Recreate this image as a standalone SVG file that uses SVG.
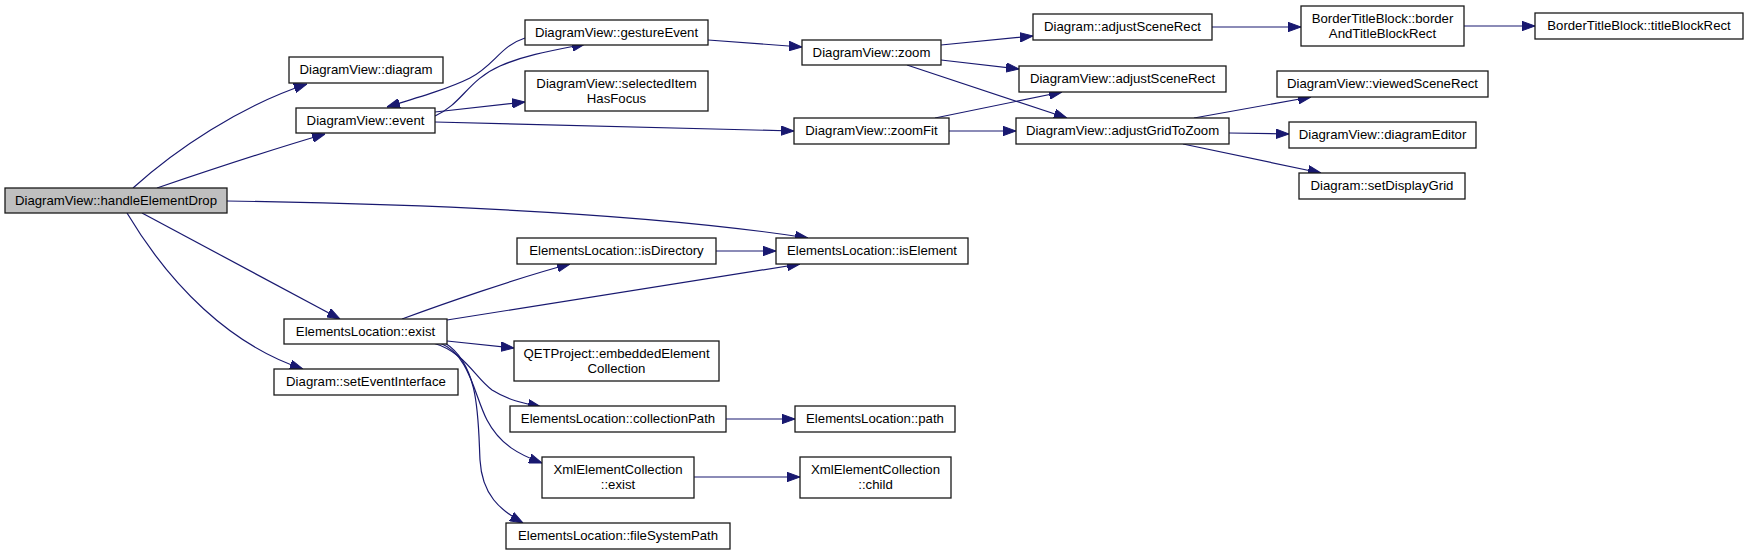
<svg xmlns="http://www.w3.org/2000/svg" width="1748" height="555" viewBox="0 0 1748 555">
<style>
.n rect{fill:#fff;stroke:#1a1a1a;stroke-width:1.3}
.n.root rect{fill:#bfbfbf}
.n text{font-family:"Liberation Sans",Arial,sans-serif;font-size:13.2px;fill:#000;text-anchor:middle}
.e path{fill:none;stroke:#191970;stroke-width:1.2;marker-end:url(#ah)}
</style>
<defs>
<marker id="ah" markerUnits="userSpaceOnUse" markerWidth="13" markerHeight="10" viewBox="0 0 13 10" refX="13" refY="5" orient="auto">
<path d="M0,0.3 L13,5 L0,9.7 z" fill="#191970" stroke="#191970" stroke-width="1"/>
</marker>
</defs>
<rect width="1748" height="555" fill="#fff"/>
<g id="edges" class="e">
<path d="M133,188 C175,150 240,106 307,84"/>
<path d="M157,188 C210,170 270,150 325,134"/>
<path d="M227,201 C420,204 640,212 808,238"/>
<path d="M142,213 L340,319"/>
<path d="M127,213 C170,285 230,345 303,369"/>
<path d="M435,116 C462,104 468,80 500,66 C525,55 555,50 585,44"/>
<path d="M525,38 C500,46 495,65 470,78 C450,88 420,97 387,107"/>
<path d="M435,112 L525,102"/>
<path d="M435,122 L794,131"/>
<path d="M708,40 L802,47"/>
<path d="M941,45 L1033,36"/>
<path d="M941,60 L1019,69"/>
<path d="M907,65 L1067,118"/>
<path d="M935,118 L1062,92"/>
<path d="M949,131 L1016,131"/>
<path d="M1212,27 L1301,27"/>
<path d="M1464,26 L1535,26"/>
<path d="M1194,118 L1311,97"/>
<path d="M1229,133 L1289,134"/>
<path d="M1183,144 L1321,173"/>
<path d="M716,251 L776,251"/>
<path d="M402,319 C440,305 520,277 570,264"/>
<path d="M447,320 L800,264"/>
<path d="M447,341 L514,348"/>
<path d="M433,343 C465,352 475,378 492,390 C508,400 522,403 541,407"/>
<path d="M440,343 C470,355 474,395 487,420 C500,445 520,455 542,463"/>
<path d="M445,343 C480,365 478,420 480,460 C482,495 500,510 523,523"/>
<path d="M726,419 L795,419"/>
<path d="M694,477 L800,477"/>
</g>
<g id="n_hed" class="n root"><rect x="5" y="188" width="222" height="25"/><text x="116" y="204.5">DiagramView::handleElementDrop</text></g>
<g id="n_diagram" class="n"><rect x="289" y="57" width="154" height="26"/><text x="366" y="74">DiagramView::diagram</text></g>
<g id="n_event" class="n"><rect x="296" y="108" width="139" height="25"/><text x="365.5" y="124.5">DiagramView::event</text></g>
<g id="n_gesture" class="n"><rect x="525" y="20" width="183" height="25"/><text x="616.5" y="36.5">DiagramView::gestureEvent</text></g>
<g id="n_selected" class="n"><rect x="525" y="71" width="183" height="40"/><text x="616.5" y="87.5">DiagramView::selectedItem</text><text x="616.5" y="102.5">HasFocus</text></g>
<g id="n_zoom" class="n"><rect x="802" y="40" width="139" height="25"/><text x="871.5" y="56.5">DiagramView::zoom</text></g>
<g id="n_zoomfit" class="n"><rect x="794" y="118" width="155" height="26"/><text x="871.5" y="135">DiagramView::zoomFit</text></g>
<g id="n_dasr" class="n"><rect x="1033" y="14" width="179" height="26"/><text x="1122.5" y="31">Diagram::adjustSceneRect</text></g>
<g id="n_btb" class="n"><rect x="1301" y="6" width="163" height="40"/><text x="1382.5" y="22.5">BorderTitleBlock::border</text><text x="1382.5" y="37.5">AndTitleBlockRect</text></g>
<g id="n_tbr" class="n"><rect x="1535" y="13" width="208" height="26"/><text x="1639" y="30">BorderTitleBlock::titleBlockRect</text></g>
<g id="n_dvasr" class="n"><rect x="1019" y="66" width="207" height="26"/><text x="1122.5" y="83">DiagramView::adjustSceneRect</text></g>
<g id="n_vsr" class="n"><rect x="1277" y="71" width="211" height="26"/><text x="1382.5" y="88">DiagramView::viewedSceneRect</text></g>
<g id="n_agtz" class="n"><rect x="1016" y="118" width="213" height="26"/><text x="1122.5" y="135">DiagramView::adjustGridToZoom</text></g>
<g id="n_de" class="n"><rect x="1289" y="122" width="187" height="26"/><text x="1382.5" y="139">DiagramView::diagramEditor</text></g>
<g id="n_sdg" class="n"><rect x="1299" y="173" width="166" height="26"/><text x="1382" y="190">Diagram::setDisplayGrid</text></g>
<g id="n_isdir" class="n"><rect x="517" y="238" width="199" height="26"/><text x="616.5" y="255">ElementsLocation::isDirectory</text></g>
<g id="n_isel" class="n"><rect x="776" y="238" width="192" height="26"/><text x="872" y="255">ElementsLocation::isElement</text></g>
<g id="n_exist" class="n"><rect x="284" y="319" width="163" height="25"/><text x="365.5" y="335.5">ElementsLocation::exist</text></g>
<g id="n_sei" class="n"><rect x="274" y="369" width="184" height="26"/><text x="366" y="386">Diagram::setEventInterface</text></g>
<g id="n_qet" class="n"><rect x="514" y="341" width="205" height="40"/><text x="616.5" y="357.5">QETProject::embeddedElement</text><text x="616.5" y="372.5">Collection</text></g>
<g id="n_cp" class="n"><rect x="510" y="406" width="216" height="26"/><text x="618" y="423">ElementsLocation::collectionPath</text></g>
<g id="n_path" class="n"><rect x="795" y="406" width="160" height="26"/><text x="875" y="423">ElementsLocation::path</text></g>
<g id="n_xec" class="n"><rect x="542" y="457" width="152" height="41"/><text x="618" y="473.5">XmlElementCollection</text><text x="618" y="488.5">::exist</text></g>
<g id="n_xchild" class="n"><rect x="800" y="457" width="151" height="41"/><text x="875.5" y="473.5">XmlElementCollection</text><text x="875.5" y="488.5">::child</text></g>
<g id="n_fsp" class="n"><rect x="506" y="523" width="224" height="26"/><text x="618" y="540">ElementsLocation::fileSystemPath</text></g>
</svg>
